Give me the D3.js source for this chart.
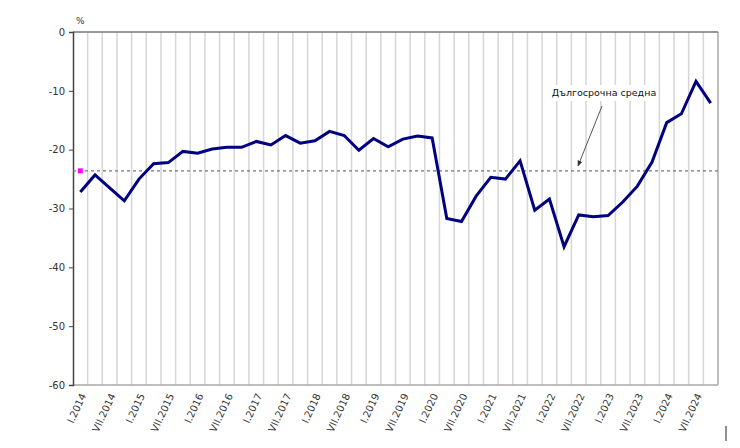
<!DOCTYPE html>
<html>
<head>
<meta charset="utf-8">
<script src="https://cdn.jsdelivr.net/npm/d3@7"></script>
<style>
  html, body { margin: 0; padding: 0; background: #fff; }
  svg { display: block; }
  text { font-family: "DejaVu Sans", Verdana, sans-serif; }
</style>
</head>
<body>
<svg id="chart" width="740" height="448"></svg>
<script>
// ---- data ----
const years = [2014, 2015, 2016, 2017, 2018, 2019, 2020, 2021, 2022, 2023, 2024];
const months = ["I", "IV", "VII", "X"];
const categories = years.flatMap(y => months.map(m => m + "." + y));
const values = [
  -27.2, -24.3, -26.5, -28.7,
  -25.0, -22.4, -22.2, -20.3,
  -20.6, -19.9, -19.6, -19.6,
  -18.6, -19.2, -17.6, -18.9,
  -18.5, -16.9, -17.6, -20.1,
  -18.1, -19.5, -18.2, -17.7,
  -18.0, -31.7, -32.2, -27.9,
  -24.7, -25.0, -21.9, -30.3,
  -28.4, -36.5, -31.1, -31.4,
  -31.2, -28.9, -26.2, -22.1,
  -15.4, -13.9, -8.4, -12.1
];
const longTermAverage = -23.6;
const yTicks = [0, -10, -20, -30, -40, -50, -60];
const shownMonths = ["I", "VII"];
const annotationText = "Дългосрочна средна";
const unitLabel = "%";

// ---- layout ----
const L = 73, R = 718, T = 32, B = 385;
const svg = d3.select("#chart");

const x = d3.scaleBand().domain(d3.range(categories.length)).range([L, R]).padding(0);
const cx = i => x(i) + x.bandwidth() / 2;
const y = d3.scaleLinear().domain([-60, 0]).range([B, T]);

// vertical gridlines at category boundaries
svg.append("g").selectAll("line")
  .data(d3.range(1, categories.length))
  .join("line")
  .attr("x1", i => x(i)).attr("x2", i => x(i))
  .attr("y1", T).attr("y2", B)
  .attr("stroke", "#d6d6d6").attr("stroke-width", 1.5);

// frame: bottom, right, top
svg.append("line").attr("x1", L).attr("x2", R).attr("y1", B).attr("y2", B)
  .attr("stroke", "#a8a8a8").attr("stroke-width", 1.5);
svg.append("line").attr("x1", R).attr("x2", R).attr("y1", T).attr("y2", B)
  .attr("stroke", "#a8a8a8").attr("stroke-width", 1.5);
svg.append("line").attr("x1", L).attr("x2", R).attr("y1", T).attr("y2", T)
  .attr("stroke", "#777").attr("stroke-width", 1.5);

// y axis
const yAxis = svg.append("g").attr("transform", `translate(${L},0)`)
  .call(d3.axisLeft(y).tickValues(yTicks).tickSize(4).tickPadding(4).tickFormat(d => String(d)));
yAxis.select(".domain").attr("stroke", "#444").attr("stroke-width", 1.5);
yAxis.selectAll(".tick line").attr("stroke", "#444");
yAxis.selectAll(".tick text").attr("fill", "#333").style("font-size", "10px")
  .style("font-family", "'DejaVu Sans', Verdana, sans-serif");

// unit label
svg.append("text").attr("x", cx(0)).attr("y", 24).attr("text-anchor", "middle")
  .attr("fill", "#333").style("font-size", "9px").text(unitLabel);

// x labels
svg.append("g").selectAll("text")
  .data(d3.range(categories.length).filter(i => shownMonths.includes(categories[i].split(".")[0])))
  .join("text")
  .attr("transform", i => `translate(${cx(i) + 3},${B + 9}) rotate(-65)`)
  .attr("text-anchor", "end")
  .attr("dy", "0.35em")
  .attr("fill", "#333")
  .style("font-size", "10px")
  .text(i => categories[i]);

// long-term average
svg.append("line")
  .attr("x1", L).attr("x2", R)
  .attr("y1", y(longTermAverage)).attr("y2", y(longTermAverage))
  .attr("stroke", "#777").attr("stroke-width", 1.2).attr("stroke-dasharray", "3,3");
svg.append("rect")
  .attr("x", cx(0) - 2.5).attr("y", y(longTermAverage) - 2.5)
  .attr("width", 5).attr("height", 5).attr("fill", "#ff00ff");

// main line
const line = d3.line().x((d, i) => cx(i)).y(d => y(d));
svg.append("path").datum(values)
  .attr("d", line).attr("fill", "none")
  .attr("stroke", "#000080").attr("stroke-width", 3).attr("stroke-linejoin", "miter");

// annotation
const defs = svg.append("defs");
defs.append("marker").attr("id", "arr").attr("viewBox", "0 0 10 10")
  .attr("refX", 9).attr("refY", 5).attr("markerWidth", 6).attr("markerHeight", 6)
  .attr("orient", "auto")
  .append("path").attr("d", "M0,1 L10,5 L0,9 Z").attr("fill", "#333");

const ann = svg.append("g");
const annX = 604, annY = 93;
ann.append("rect").attr("x", 550).attr("y", 85).attr("width", 108).attr("height", 16).attr("fill", "#fff");
ann.append("text").attr("x", annX).attr("y", annY).attr("dy", "0.35em")
  .attr("text-anchor", "middle").attr("fill", "#111").style("font-size", "9.5px")
  .text(annotationText);
ann.append("line").attr("x1", 602).attr("y1", 106).attr("x2", 578).attr("y2", 166)
  .attr("stroke", "#555").attr("stroke-width", 1).attr("marker-end", "url(#arr)");

// stray mark bottom-right
svg.append("line").attr("x1", 726).attr("x2", 726).attr("y1", 426).attr("y2", 441)
  .attr("stroke", "#222").attr("stroke-width", 1);
</script>
</body>
</html>
